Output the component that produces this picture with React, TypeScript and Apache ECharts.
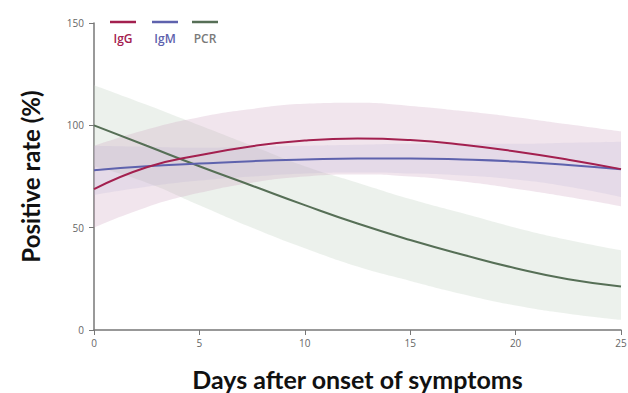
import React, { useEffect, useRef } from "react";
import * as echarts from "echarts";

const days = ["0", "2.5", "5", "7.5", "10", "12.5", "15", "17.5", "20", "22.5", "25"];

const igg = [68.8, 79.5, 85.4, 89.8, 92.6, 93.6, 92.8, 90.5, 87.2, 83.2, 78.6];
const iggUpper = [90, 98, 104, 108, 110.5, 111, 109.5, 107, 104, 100.5, 97];
const iggLower = [50, 60, 67, 72, 75, 76, 75, 72.5, 69, 65, 60.5];

const igm = [78.1, 80, 81.3, 82.5, 83.3, 83.8, 83.8, 83.3, 82.3, 80.6, 78.5];
const igmUpper = [90, 89.5, 89, 89.5, 90, 90.5, 91, 91, 91, 91.5, 92];
const igmLower = [66, 70, 73, 75, 76.5, 77, 76.5, 75.5, 73.5, 70, 65];

const pcr = [100, 90, 80, 70.5, 61, 52, 44, 36.8, 30.2, 24.8, 21.3];
const pcrUpper = [119.6, 110, 100, 90, 80, 72, 64, 57, 50, 44, 39];
const pcrLower = [80, 72, 61, 50, 40, 31, 24, 17.5, 12, 8, 5];

const legendNames = ["IgG", "IgM", "PCR"];

const COLORS = { IgG: "#a3204f", IgM: "#5e62ad", PCR: "#566f56" };
const BANDS = {
  IgG: "rgba(205,160,190,0.28)",
  IgM: "rgba(165,170,215,0.18)",
  PCR: "rgba(195,212,195,0.32)",
};

const diffs = (a: number[], b: number[]) => a.map((v, i) => +(v - b[i]).toFixed(2));

function bandSeries(name: string, lower: number[], upper: number[], color: string) {
  return [
    {
      type: "line",
      name: name + "-lo",
      stack: name + "band",
      data: lower,
      smooth: true,
      symbol: "none",
      lineStyle: { opacity: 0 },
      silent: true,
    },
    {
      type: "line",
      name: name + "-band",
      stack: name + "band",
      data: diffs(upper, lower),
      smooth: true,
      symbol: "none",
      lineStyle: { opacity: 0 },
      areaStyle: { color, opacity: 1 },
      silent: true,
    },
  ];
}

function lineSeries(name: string, ys: number[], color: string) {
  return {
    type: "line",
    name,
    data: ys,
    smooth: true,
    symbol: "none",
    lineStyle: { color, width: 2 },
    z: 5,
  };
}

export default function App() {
  const ref = useRef<HTMLDivElement>(null);
  useEffect(() => {
    if (!ref.current) return;
    const chart = echarts.init(ref.current, undefined, { renderer: "svg" });
    const legendX = [110, 152, 192];
    const graphic: any[] = [];
    legendNames.forEach((n, i) => {
      const c = (COLORS as any)[n];
      graphic.push({
        type: "line",
        shape: { x1: legendX[i], y1: 22, x2: legendX[i] + 26, y2: 22 },
        style: { stroke: c, lineWidth: 2.5 },
      });
      graphic.push({
        type: "text",
        x: legendX[i] + 13,
        y: 38,
        style: {
          text: n,
          fill: n === "PCR" ? "#7a7a7a" : c,
          font: "600 12px 'Open Sans'",
          align: "center",
          verticalAlign: "middle",
        },
      });
    });
    chart.setOption({
      animation: false,
      grid: { left: 94, right: 7, top: 23, bottom: 63, outerBoundsMode: "none", containLabel: false },
      xAxis: {
        type: "category",
        data: days,
        boundaryGap: false,
        name: "Days after onset of symptoms",
        nameLocation: "middle",
        nameGap: 36,
        nameTextStyle: { fontFamily: "Lato", fontWeight: "bold", fontSize: 25, color: "#111" },
        axisLine: { lineStyle: { color: "#777", width: 1.5 } },
        axisTick: { show: true, length: 5, interval: 1, lineStyle: { color: "#777" } },
        axisLabel: { color: "#666", fontSize: 10, fontFamily: "Open Sans", margin: 8, interval: 1 },
        splitLine: { show: false },
      },
      yAxis: {
        type: "value",
        min: 0,
        max: 150,
        interval: 50,
        name: "Positive rate (%)",
        nameLocation: "middle",
        nameGap: 52,
        nameTextStyle: { fontFamily: "Lato", fontWeight: "bold", fontSize: 24, color: "#111" },
        axisLine: { show: true, lineStyle: { color: "#777", width: 1.5 } },
        axisTick: { show: true, length: 5, lineStyle: { color: "#777" } },
        axisLabel: { color: "#666", fontSize: 10, fontFamily: "Open Sans", margin: 10 },
        splitLine: { show: false },
      },
      series: [
        ...bandSeries("PCR", pcrLower, pcrUpper, BANDS.PCR),
        ...bandSeries("IgM", igmLower, igmUpper, BANDS.IgM),
        ...bandSeries("IgG", iggLower, iggUpper, BANDS.IgG),
        lineSeries("PCR", pcr, COLORS.PCR),
        lineSeries("IgM", igm, COLORS.IgM),
        lineSeries("IgG", igg, COLORS.IgG),
      ],
      graphic,
    });
    return () => chart.dispose();
  }, []);
  return <div ref={ref} style={{ width: 628, height: 393, position: "absolute", left: 0, top: 0 }} />;
}
